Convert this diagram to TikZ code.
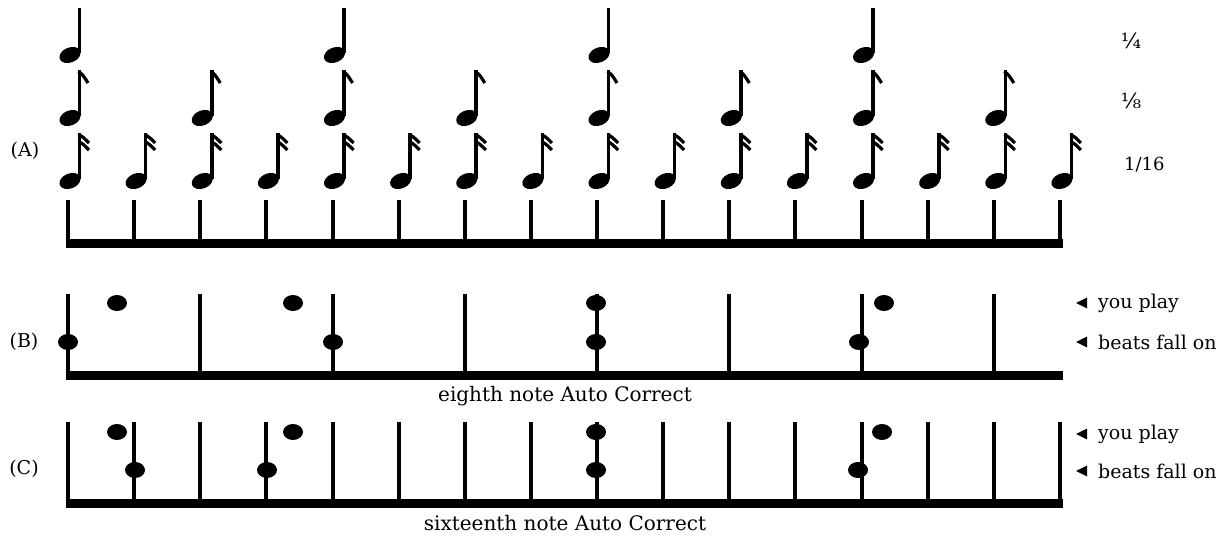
\documentclass[tikz,border=0pt]{standalone}
\usepackage{fontspec}
\setmainfont{DejaVu Serif}
\begin{document}
\begin{tikzpicture}[x=1pt,y=-1pt,
  tick/.style={line width=4pt},
  bar/.style={line width=9pt},
  stem/.style={line width=3.6pt},
  flag/.style={line width=3.2pt},
  lbl/.style={font=\fontsize{19}{22}\selectfont, anchor=west, inner sep=0pt},
  side/.style={font=\fontsize{19}{22}\selectfont, inner sep=0pt},
  fracl/.style={font=\fontsize{21}{24}\selectfont, inner sep=0pt},
  captxt/.style={font=\fontsize{20}{22}\selectfont, inner sep=0pt},
]
\useasboundingbox[fill=white] (0,0) rectangle (1225,537);
% --- (A) notes ---
\foreach \i in {0,...,15}{
  \pgfmathsetmacro{\tx}{68+66.13*\i}
  % sixteenth
  \fill[rotate around={22:(\tx+2,181)}] (\tx+2,181) ellipse [x radius=11, y radius=7.5];
  \draw[stem] (\tx+11.5,179) -- (\tx+11.5,133);
  \draw[flag] (\tx+10.5,134.5) .. controls (\tx+15,137) .. (\tx+21,143);
  \draw[flag] (\tx+10.5,141.5) .. controls (\tx+15,144) .. (\tx+21,150);
  % tick
  \draw[tick] (\tx,200) -- (\tx,241);
}
\foreach \i in {0,2,...,14}{
  \pgfmathsetmacro{\tx}{68+66.13*\i}
  \fill[rotate around={22:(\tx+2,118)}] (\tx+2,118) ellipse [x radius=11, y radius=7.5];
  \draw[stem] (\tx+11.5,116) -- (\tx+11.5,70);
  \draw[flag] (\tx+10.5,71.5) .. controls (\tx+15,75) .. (\tx+20,83);
}
\foreach \i in {0,4,8,12}{
  \pgfmathsetmacro{\tx}{68+66.13*\i}
  \fill[rotate around={22:(\tx+2,55)}] (\tx+2,55) ellipse [x radius=11, y radius=7.5];
  \draw[stem] (\tx+11.5,53) -- (\tx+11.5,8);
}
\draw[bar] (65.5,244) -- (1063,244);
\node[side] (la) at (25,151) {(A)};
\node[fracl] (q) at (1131,41) {¼};
\node[fracl] (e) at (1131,101) {⅛};
\node[side, font=\fontsize{18}{20}\selectfont, anchor=west] (s) at (1124,165) {1/16};
% --- (B) ---
\foreach \i in {0,2,...,14}{
  \pgfmathsetmacro{\tx}{68+66.13*\i}
  \draw[tick] (\tx,294) -- (\tx,372);
}
\draw[bar] (65.5,375) -- (1063,375);
\foreach \x in {117,293,596,884}{ \fill (\x,303) ellipse [x radius=10, y radius=8]; }
\foreach \x in {68,333,596,859}{ \fill (\x,342) ellipse [x radius=10, y radius=8]; }
\node[side] (lb) at (24,342) {(B)};
\node[captxt] (cb) at (565,396) {eighth note Auto Correct};
% --- (C) ---
\foreach \i in {0,...,15}{
  \pgfmathsetmacro{\tx}{68+66.13*\i}
  \draw[tick] (\tx,422) -- (\tx,500);
}
\draw[bar] (65.5,503) -- (1063,503);
\foreach \x in {117,293,596,882}{ \fill (\x,432) ellipse [x radius=10, y radius=8]; }
\foreach \x in {135,267,596,858}{ \fill (\x,470) ellipse [x radius=10, y radius=8]; }
\node[side] (lc) at (24,469) {(C)};
\node[captxt] (cc) at (565,523) {sixteenth note Auto Correct};
% --- right labels ---
\foreach \y/\t in {303/you play,342/beats fall on,434/you play,471/beats fall on}{
  \fill (1076,\y) -- (1087,\y-5.5) -- (1087,\y+5.5) -- cycle;
  \node[lbl] at (1098,\y) {\t};
}
\end{tikzpicture}
\end{document}
